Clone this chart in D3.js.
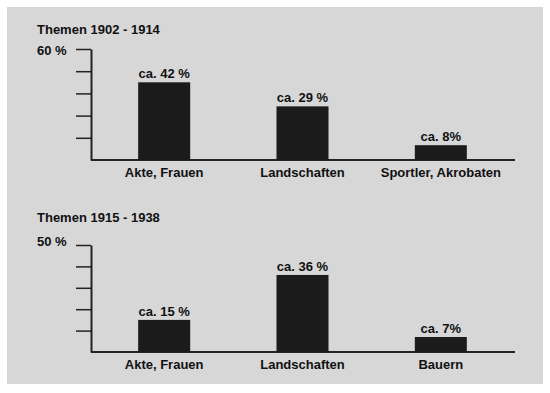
<!DOCTYPE html>
<html>
<head>
<meta charset="utf-8">
<script src="https://cdn.jsdelivr.net/npm/d3@7"></script>
<style>
  body { margin: 0; background: #fff; }
  svg { display: block; }
  text { font-family: "Liberation Sans", Arial, sans-serif; fill: #111; }
</style>
</head>
<body>
<div id="chart"></div>
<script>
// top panel: 1902 - 1914
const topTitle = 'Themen 1902 - 1914';
const topCategories = ['Akte, Frauen', 'Landschaften', 'Sportler, Akrobaten'];
const topValues = [42, 29, 8];
const topLabels = ['ca. 42 %', 'ca. 29 %', 'ca. 8%'];
const topMax = 60;
const topTicks = [12, 24, 36, 48, 60];
const topMaxLabel = '60 %';

// bottom panel: 1915 - 1938
const bottomTitle = 'Themen 1915 - 1938';
const bottomCategories = ['Akte, Frauen', 'Landschaften', 'Bauern'];
const bottomValues = [15, 36, 7];
const bottomLabels = ['ca. 15 %', 'ca. 36 %', 'ca. 7%'];
const bottomMax = 50;
const bottomTicks = [10, 20, 30, 40, 50];
const bottomMaxLabel = '50 %';

const width = 550;
const height = 393;
const fontSize = 13;

const svg = d3.select('#chart')
  .append('svg')
  .attr('width', width)
  .attr('height', height);

svg.append('rect')
  .attr('x', 7)
  .attr('y', 7)
  .attr('width', 536)
  .attr('height', 377)
  .attr('fill', '#d7d7d7');

function drawPanel(cfg) {
  const {
    title, categories, values, labels, max, ticks, maxLabel, top, bottom, titleY, maxY,
  } = cfg;
  const left = 91;
  const right = 515;

  const g = svg.append('g');

  const x = d3.scaleBand()
    .domain(categories)
    .range([95, 510]);

  const y = d3.scaleLinear()
    .domain([0, max])
    .range([bottom, top]);

  const barW = 52;

  g.append('text')
    .attr('x', 37)
    .attr('y', titleY)
    .attr('font-size', fontSize)
    .attr('font-weight', 'bold')
    .text(title);

  g.append('text')
    .attr('x', 37)
    .attr('y', maxY)
    .attr('font-size', fontSize)
    .attr('font-weight', 'bold')
    .text(maxLabel);

  // y axis: ticks pointing left, no labels
  const yAxis = d3.axisLeft(y)
    .tickValues(ticks)
    .tickSize(15)
    .tickSizeOuter(0)
    .tickFormat('');

  g.append('g')
    .attr('transform', `translate(${left},0)`)
    .call(yAxis)
    .call((a) => a.selectAll('line').attr('stroke', '#222').attr('stroke-width', 1.5))
    .call((a) => a.select('.domain').attr('stroke', '#222').attr('stroke-width', 2));

  // baseline
  g.append('line')
    .attr('x1', left)
    .attr('x2', right)
    .attr('y1', y(0))
    .attr('y2', y(0))
    .attr('stroke', '#222')
    .attr('stroke-width', 2);

  g.selectAll('rect.bar')
    .data(values)
    .join('rect')
    .attr('class', 'bar')
    .attr('x', (d, i) => x(categories[i]) + x.bandwidth() / 2 - barW / 2)
    .attr('y', (d) => y(d))
    .attr('width', barW)
    .attr('height', (d) => y(0) - y(d))
    .attr('fill', '#1b1b1b');

  g.selectAll('text.val')
    .data(values)
    .join('text')
    .attr('class', 'val')
    .attr('x', (d, i) => x(categories[i]) + x.bandwidth() / 2)
    .attr('y', (d) => y(d) - 4)
    .attr('text-anchor', 'middle')
    .attr('font-size', fontSize)
    .attr('font-weight', 'bold')
    .text((d, i) => labels[i]);

  g.selectAll('text.cat')
    .data(categories)
    .join('text')
    .attr('class', 'cat')
    .attr('x', (d) => x(d) + x.bandwidth() / 2)
    .attr('y', bottom + 17)
    .attr('text-anchor', 'middle')
    .attr('font-size', fontSize)
    .attr('font-weight', 'bold')
    .text((d) => d);
}

drawPanel({
  title: topTitle,
  categories: topCategories,
  values: topValues,
  labels: topLabels,
  max: topMax,
  ticks: topTicks,
  maxLabel: topMaxLabel,
  top: 49,
  bottom: 160,
  titleY: 34,
  maxY: 55,
});

drawPanel({
  title: bottomTitle,
  categories: bottomCategories,
  values: bottomValues,
  labels: bottomLabels,
  max: bottomMax,
  ticks: bottomTicks,
  maxLabel: bottomMaxLabel,
  top: 245,
  bottom: 352,
  titleY: 222,
  maxY: 246,
});
</script>
</body>
</html>
